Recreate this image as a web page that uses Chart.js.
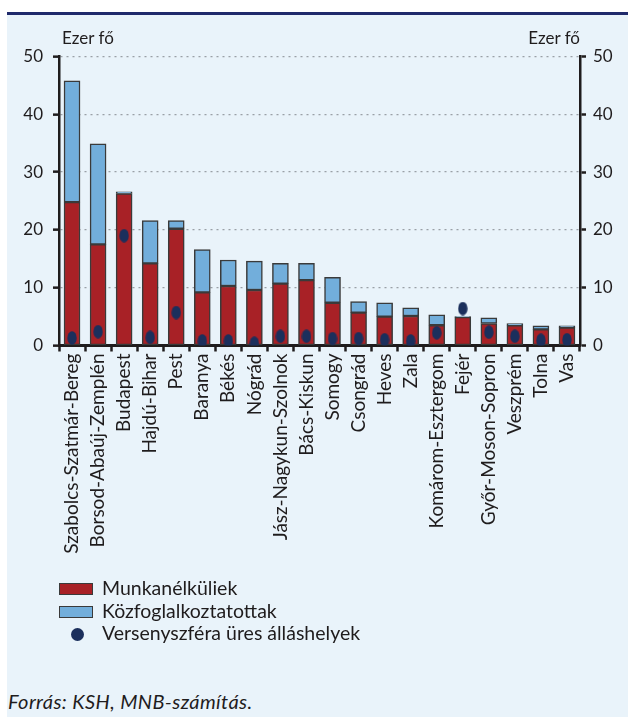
<!DOCTYPE html>
<html>
<head>
<meta charset="utf-8">
<script src="https://cdn.jsdelivr.net/npm/chart.js@4.4.1/dist/chart.umd.min.js"></script>
<style>
  html, body { margin: 0; padding: 0; background: #ffffff; }
  body { width: 628px; height: 717px; position: relative; overflow: hidden; font-family: Lato, "Noto Sans", sans-serif; color: #1f1c1d; }
  #panel { position: absolute; left: 7px; top: 12px; right: 0; bottom: 0; background: #e9f3fa; border-top: 3px solid #1f2a6b; }
  #c { position: absolute; left: 0; top: 0; }
  .unit { position: absolute; top: 28px; font-size: 17px; line-height: 20px; }
  #legend { position: absolute; left: 59px; top: 577px; font-size: 19.5px; }
  .item { position: relative; height: 22.5px; line-height: 22px; padding-left: 43px; }
  .sw { position: absolute; left: 0; top: 6px; width: 32px; height: 10px; border: 1px solid #3a3a3a; }
  .dot { position: absolute; left: 12px; top: 6px; width: 13px; height: 13px; border-radius: 50%; background: #1b2f5c; }
  #source { position: absolute; left: 8px; top: 689px; font-size: 20px; letter-spacing: 0.4px; font-style: italic; }
</style>
</head>
<body>
<div id="panel"></div>
<canvas id="c" width="628" height="580"></canvas>
<div class="unit" style="left:62px;">Ezer fő</div>
<div class="unit" style="right:48px;">Ezer fő</div>
<div id="legend"></div>
<div id="source">Forrás: KSH, MNB-számítás.</div>
<script>
// Counties (plus Budapest), thousand persons
const categories = [
  'Szabolcs-Szatmár-Bereg', 'Borsod-Abaúj-Zemplén', 'Budapest', 'Hajdú-Bihar', 'Pest',
  'Baranya', 'Békés', 'Nógrád', 'Jász-Nagykun-Szolnok', 'Bács-Kiskun',
  'Somogy', 'Csongrád', 'Heves', 'Zala', 'Komárom-Esztergom',
  'Fejér', 'Győr-Moson-Sopron', 'Veszprém', 'Tolna', 'Vas'
];
const unemployed = [24.8, 17.5, 26.3, 14.2, 20.2, 9.2, 10.3, 9.6, 10.7, 11.3, 7.4, 5.7, 5.0, 5.1, 3.5, 4.9, 3.8, 3.5, 2.8, 3.1];
const publicWorkers = [21.0, 17.4, 0.3, 7.4, 1.4, 7.4, 4.5, 5.0, 3.5, 2.9, 4.4, 1.9, 2.4, 1.4, 1.8, 0.1, 1.0, 0.3, 0.6, 0.3];
const vacancies = [1.3, 2.4, 19.0, 1.4, 5.7, 0.8, 0.8, 0.4, 1.6, 1.6, 1.2, 1.2, 1.0, 0.8, 2.2, 6.4, 2.3, 1.6, 0.9, 1.0];
const yTickStep = 10;
const yMin = 0, yMax = 50;

const seriesNames = ['Munkanélküliek', 'Közfoglalkoztatottak', 'Versenyszféra üres álláshelyek'];
const RED = '#a82126', BLUE = '#72aedb', NAVY = '#1b2f5c', INK = '#1f1c1d', EDGE = '#3a3a3a';

// Upright oval marker for the vacancy points
function ovalMarker(w, h, color) {
  const cv = document.createElement('canvas');
  cv.width = w; cv.height = h;
  const g = cv.getContext('2d');
  g.fillStyle = color;
  g.beginPath();
  g.ellipse(w / 2, h / 2, w / 2 - 0.3, h / 2 - 0.3, 0, 0, Math.PI * 2);
  g.fill();
  return cv;
}

const tickFont = { family: 'Lato', size: 17 };
const catFont = { family: 'Lato', size: 19 };

const chart = new Chart(document.getElementById('c'), {
  data: {
    labels: categories,
    datasets: [
      { type: 'bar', label: seriesNames[0], data: unemployed, backgroundColor: RED, borderColor: EDGE, borderWidth: 1.5, borderSkipped: false, yAxisID: 'y', order: 2, stack: 'people' },
      { type: 'bar', label: seriesNames[1], data: publicWorkers, backgroundColor: BLUE, borderColor: EDGE, borderWidth: 1.5, borderSkipped: false, yAxisID: 'y', order: 2, stack: 'people' },
      { type: 'line', label: seriesNames[2], data: vacancies, showLine: false, pointStyle: ovalMarker(10, 14, NAVY), pointRadius: 6, yAxisID: 'y', order: 0, stack: 'vacancy' }
    ]
  },
  options: {
    responsive: false,
    animation: false,
    layout: { padding: { top: 56.5, left: 0, right: 0, bottom: 0 } },
    plugins: { legend: { display: false }, tooltip: { enabled: false } },
    datasets: { bar: { barThickness: 16 } },
    scales: {
      x: {
        stacked: true,
        grid: { offset: true, drawOnChartArea: false, drawTicks: true, tickLength: 6, tickColor: INK, tickWidth: 2.5 },
        border: { display: true, color: INK, width: 3 },
        ticks: { color: INK, font: catFont, minRotation: 90, maxRotation: 90, autoSkip: false, padding: 2 },
        afterFit(s) { s.height = 580 - 345.5; }
      },
      y: {
        position: 'left',
        stacked: true,
        min: yMin, max: yMax,
        ticks: { stepSize: yTickStep, color: INK, font: tickFont, padding: 10 },
        grid: { color: '#9aa0a6', lineWidth: 1.3, tickColor: INK, tickWidth: 2.5, tickLength: 6, tickBorderDash: [] },
        border: { display: true, color: INK, width: 2.5, dash: [2, 4] },
        afterFit(s) { s.width = 59; }
      },
      y2: {
        position: 'right',
        min: yMin, max: yMax,
        ticks: { stepSize: yTickStep, color: INK, font: tickFont, padding: 7 },
        grid: { drawOnChartArea: false, tickColor: INK, tickWidth: 2.5, tickLength: 6 },
        border: { display: true, color: INK, width: 2.5 },
        afterFit(s) { s.width = 48; }
      }
    }
  }
});

// Legend built from the dataset styles
const legend = document.getElementById('legend');
chart.data.datasets.forEach((ds) => {
  const row = document.createElement('div');
  row.className = 'item';
  const mark = document.createElement('span');
  if (ds.type === 'bar') {
    mark.className = 'sw';
    mark.style.background = ds.backgroundColor;
  } else {
    mark.className = 'dot';
  }
  row.appendChild(mark);
  row.appendChild(document.createTextNode(ds.label));
  legend.appendChild(row);
});
</script>
</body>
</html>
